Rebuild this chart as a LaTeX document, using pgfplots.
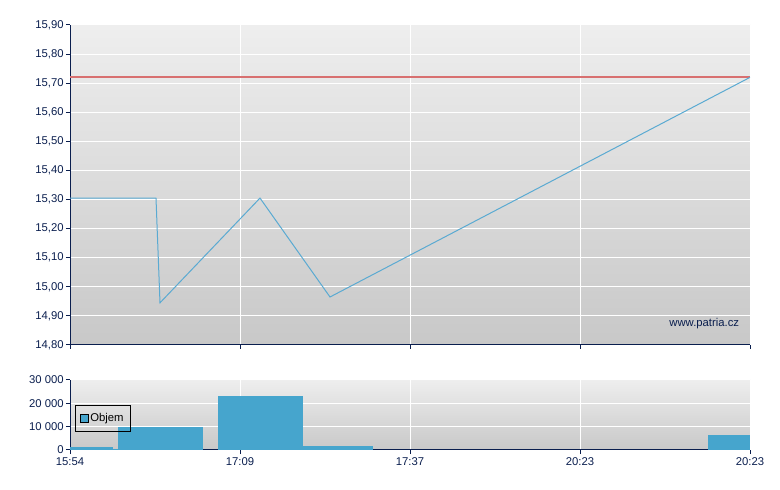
\documentclass[border=0pt]{standalone}
\usepackage{fontspec}
\setmainfont{Liberation Sans}
\usepackage{pgfplots}
\pgfplotsset{compat=1.18}
\definecolor{navy}{HTML}{0A1E4E}
\definecolor{lineblue}{HTML}{5AAAD2}
\definecolor{barblue}{HTML}{46A5CD}
\definecolor{refred}{HTML}{D87070}
\definecolor{bgtop}{HTML}{EEEEEE}
\definecolor{bgbot}{HTML}{C8C8C8}
\begin{document}
\fontsize{11bp}{13bp}\selectfont
\begin{tikzpicture}[x=1bp,y=1bp]
\pgfplotsset{common/.style={
  scale only axis, width=680bp,
  xmin=0, xmax=680, xtick={0,170,340,510,680},
  axis x line*=bottom, axis y line*=left,
  axis line style={navy, line width=1bp},
  grid=major, major grid style={white, line width=1bp},
  tick style={navy, line width=1bp}, tick align=outside, major tick length=4bp,
  xtick pos=bottom, ytick pos=left,
  ticklabel style={text=navy, font=\fontsize{11.3bp}{13bp}\selectfont},
  yticklabel style={xshift=1.5bp},
  /pgf/number format/assume math mode=true,
  scaled y ticks=false,
  axis background/.style={shade, top color=bgtop, bottom color=bgbot},
  clip=true,
}}
% top price axis
\begin{axis}[common,
  at={(70bp,145bp)}, anchor=south west, height=320bp,
  ymin=14.8, ymax=15.9,
  ytick={14.8,14.9,15.0,15.1,15.2,15.3,15.4,15.5,15.6,15.7,15.8,15.9},
  yticklabel style={/pgf/number format/use comma, /pgf/number format/fixed, /pgf/number format/fixed zerofill, /pgf/number format/precision=2},
  xticklabels={},
]
% reference level 15.72 (thin filled band)
\addplot[fill=refred, draw=none] coordinates {(0,15.7168) (680,15.7168) (680,15.7232) (0,15.7232)} -- cycle;
\addplot[color=lineblue, solid, mark=none, line width=1bp] coordinates {
 (0,15.305) (86,15.305) (90,14.945) (190,15.305) (260,14.965) (680,15.72)};
\node[anchor=east, text=navy, font=\fontsize{11.3bp}{13bp}\selectfont] at (axis cs:673,14.875) {www.patria.cz};
\end{axis}
% bottom volume axis
\begin{axis}[common,
  at={(70bp,40bp)}, anchor=south west, height=70bp,
  ymin=0, ymax=30000,
  ytick={0,10000,20000,30000},
  yticklabels={0,10 000,20 000,30 000},
  xticklabels={15:54,17:09,17:37,20:23,20:23},
  legend style={at={(0.007,0.643)}, anchor=north west, draw=black, fill=none,
    font=\fontsize{11.3bp}{13bp}\selectfont, inner xsep=5bp, inner ysep=6bp,
    /tikz/every even column/.append style={column sep=0bp}},
  legend image code/.code={\draw[fill=barblue,draw=black] (0bp,-4bp) rectangle (8bp,4bp);},
]
\addplot[fill=barblue, draw=none, forget plot] coordinates {(0,0)(0,1150)(43,1150)(43,0)} -- cycle;
\addplot[fill=barblue, draw=none, forget plot] coordinates {(43,0)(43,350)(48,350)(48,0)} -- cycle;
\addplot[fill=barblue, draw=none, forget plot] coordinates {(48,0)(48,9900)(133,9900)(133,0)} -- cycle;
\addplot[fill=barblue, draw=none, forget plot] coordinates {(148,0)(148,23200)(233,23200)(233,0)} -- cycle;
\addplot[fill=barblue, draw=none, forget plot] coordinates {(233,0)(233,1800)(303,1800)(303,0)} -- cycle;
\addplot[fill=barblue, draw=none, forget plot] coordinates {(638,0)(638,6400)(680,6400)(680,0)} -- cycle;
\addlegendimage{fill=barblue}
\addlegendentry{Objem}
\end{axis}
\pgfresetboundingbox
\path[use as bounding box] (0bp,0bp) rectangle (780bp,490bp);
\end{tikzpicture}
\end{document}
